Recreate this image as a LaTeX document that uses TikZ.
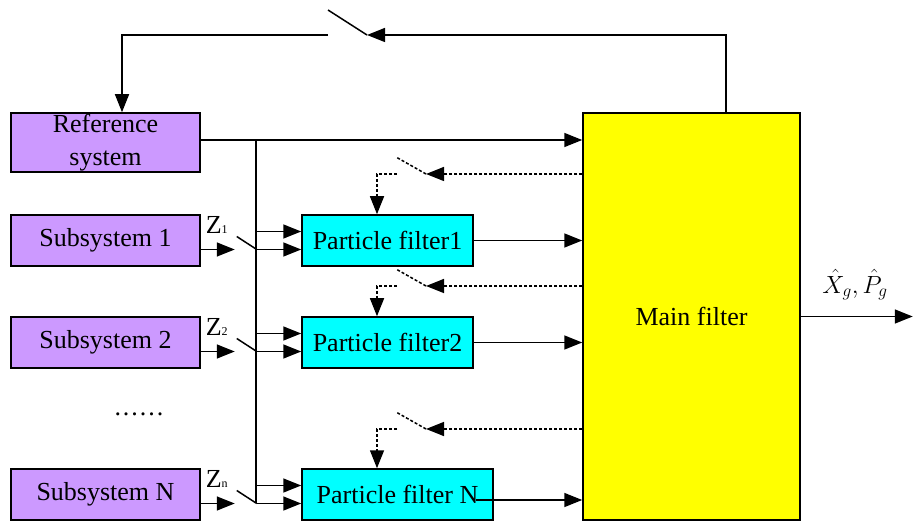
\documentclass[tikz,border=0pt]{standalone}
\usepackage{fontspec}
\setmainfont{Liberation Serif}
\usetikzlibrary{arrows.meta, positioning, calc}
\definecolor{sysfill}{HTML}{CC99FF}
\definecolor{pffill}{HTML}{00FFFF}
\definecolor{mainfill}{HTML}{FFFF00}

\begin{document}
\begin{tikzpicture}[x=1pt, y=-1pt, line width=1.5pt,
    >={Triangle[length=18pt,width=14pt]},
    font=\fontsize{26}{30}\selectfont,
    sysbox/.style={draw, fill=sysfill, minimum width=189pt, minimum height=51pt, inner sep=0pt, align=center},
    pfbox/.style={draw, fill=pffill, minimum width=171pt, minimum height=51pt, inner sep=0pt},
    mainbox/.style={draw, fill=mainfill, minimum width=217pt, minimum height=407pt, inner sep=0pt},
    zlabel/.style={inner sep=0pt},
    fb/.style={dash pattern=on 3pt off 2pt}]
    \useasboundingbox (0,0) rectangle (913,521);

    % Systems
    \node[sysbox, minimum height=59pt] (refsys) at (105.5,142.5) {Reference\\[3pt]system};
    \node[sysbox] (sub1) at (105.5,240.5) {Subsystem 1};
    \node[sysbox] (sub2) at (105.5,342.5) {Subsystem 2};
    \node (dots) at (139,414) {.\kern2pt.\kern2pt.\kern2pt.\kern2pt.\kern2pt.};
    \node[sysbox] (subN) at (105.5,494.5) {Subsystem N};

    % Filters
    \node[pfbox] (pf1) at (387.5,240.5) {Particle filter1};
    \node[pfbox] (pf2) at (387.5,342.5) {Particle filter2};
    \node[pfbox, minimum width=191pt] (pfN) at (397.5,494.5) {Particle filter N};
    \node[mainbox] (mainf) at (691.5,316.5) {Main filter};

    % Top feedback with switch
    \coordinate (swtip) at (367,35);
    \coordinate (swleft) at (328,35);
    \coordinate (swblade) at (328,10);
    \draw[->] ([xshift=34.5pt]mainf.north) |- (swtip);
    \draw (swtip) -- (swblade);
    \draw[->] (swleft) -| ([xshift=16.5pt]refsys.north);

    % Reference line and bus
    \coordinate (bustop) at (256,140);
    \coordinate (busbot) at (256,503);
    \draw[->] (refsys.east |- bustop) -- (mainf.west |- bustop);
    \draw (bustop) -- (busbot);

    % Measurements into the particle filters
    \foreach \s/\p/\z in {sub1/pf1/1, sub2/pf2/2, subN/pfN/n} {
        \draw[->] ($(\s.east)+(0,9)$) -- ++(34,0);
        \draw ($(\s.east)+(36,-4)$) -- ($(\s.east)+(56,9)$);
        \draw[->] ($(\s.east)+(56,9)$) -- ($(\p.west)+(0,9)$);
        \draw[->] ($(\s.east)+(56,-9)$) -- ($(\p.west)+(0,-9)$);
        \node[zlabel] (z\z) at ($(\s.east)+(16,-16)$) {Z{\fontsize{12}{12}\selectfont\z}};
    }

    % Filter outputs
    \draw[->] (pf1.east) -- (mainf.west |- pf1.east);
    \draw[->] (pf2.east) -- (mainf.west |- pf2.east);
    \draw[->] ($(pfN.east)+(-18,5.5)$) -- ($(mainf.west |- pfN.east)+(0,5.5)$);

    % Dotted feedback to the particle filters
    \foreach \p/\yf/\dx in {pf1/174/-10.5, pf2/286/-10.5, pfN/429/-20.5} {
        \coordinate (tip\p) at (426,\yf);
        \draw[fb,->] (mainf.west |- tip\p) -- (tip\p);
        \draw[fb] (tip\p) -- ++(-30,-17);
        \draw[fb,->] (397,\yf) -| ($(\p.north)+(\dx,0)$);
    }

    % Main output
    \draw[->] (mainf.east) -- ++(112,0);
    \node (outlbl) at (855,285) {$\hat{X}_g{,}\,\hat{P}_g$};
\end{tikzpicture}
\end{document}
